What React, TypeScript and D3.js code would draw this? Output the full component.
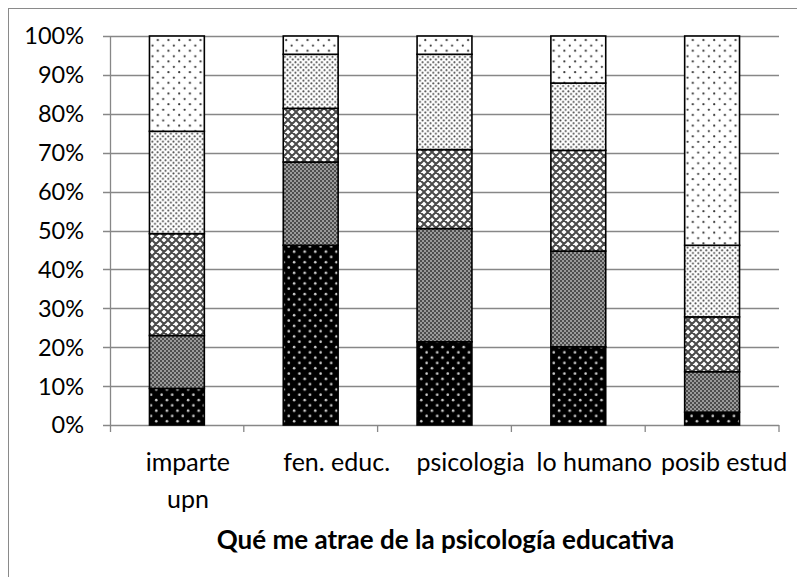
import React from "react";
import * as d3 from "d3";

const categories = ["imparte upn", "fen. educ.", "psicologia", "lo humano", "posib estud"];
const categoryLines = [["imparte", "upn"], ["fen. educ."], ["psicologia"], ["lo humano"], ["posib estud"]];
const labelShift = [11, 26, 26, 16, 12];
const seriesNames = ["s1", "s2", "s3", "s4", "s5"];
const s1 = [9.4, 46.2, 21.4, 20.1, 3.3];
const s2 = [13.6, 21.4, 29.1, 24.6, 10.4];
const s3 = [26.2, 13.8, 20.3, 25.9, 14.1];
const s4 = [26.3, 13.9, 24.5, 17.3, 18.4];
const s5 = [24.5, 4.7, 4.7, 12.1, 53.8];
const yTicks = [0, 0.1, 0.2, 0.3, 0.4, 0.5, 0.6, 0.7, 0.8, 0.9, 1];
const title = "Qué me atrae de la psicología educativa";

const W = 797;
const H = 577;
const plot = { left: 110, right: 779, top: 36, bottom: 425 };
const FONT = "Lato, 'Open Sans', sans-serif";
const GRID = "#878787";

export default function App() {
  const seriesValues = [s1, s2, s3, s4, s5];
  const rows = categories.map((c, i) => {
    const r: any = { cat: c };
    seriesNames.forEach((s, j) => (r[s] = seriesValues[j][i]));
    return r;
  });
  const stacked = d3.stack().keys(seriesNames).offset(d3.stackOffsetExpand)(rows);

  const x = d3.scaleBand().domain(categories).range([plot.left, plot.right]).paddingInner(0.59).paddingOuter(0.295);
  const xOuter = d3.scaleBand().domain(categories).range([plot.left, plot.right]);
  const y = d3.scaleLinear().domain([0, 1]).range([plot.bottom, plot.top]);
  const fmt = d3.format(".0%");
  const patternIds = ["p1", "p2", "p3", "p4", "p5"];

  return (
    <svg width={W} height={H} style={{ position: "absolute", left: 0, top: 0, background: "#fff" }}>
      <defs>
        <pattern id="p1" patternUnits="userSpaceOnUse" width={10.6} height={10.6}>
          <rect width={10.6} height={10.6} fill="#000" />
          <circle cx={2.6} cy={2.6} r={1.3} fill="#d0d0d0" />
          <circle cx={7.9} cy={7.9} r={1.3} fill="#d0d0d0" />
        </pattern>
        <pattern id="p2" patternUnits="userSpaceOnUse" width={4} height={4}>
          <rect width={4} height={4} fill="#9a9a9a" />
          <circle cx={1} cy={1} r={1} fill="#333" />
          <circle cx={3} cy={3} r={1} fill="#333" />
        </pattern>
        <pattern id="p3" patternUnits="userSpaceOnUse" width={8} height={8}>
          <rect width={8} height={8} fill="#fff" />
          <path d="M0,0L8,8M8,0L0,8M-1,7L1,9M7,-1L9,1M-1,1L1,-1M7,9L9,7" stroke="#4a4a4a" strokeWidth={2} />
        </pattern>
        <pattern id="p4" patternUnits="userSpaceOnUse" width={5.3} height={5.3}>
          <rect width={5.3} height={5.3} fill="#fff" />
          <circle cx={1.3} cy={1.3} r={1} fill="#444" />
          <circle cx={3.95} cy={3.95} r={1} fill="#444" />
        </pattern>
        <pattern id="p5" patternUnits="userSpaceOnUse" width={10.7} height={10.7}>
          <rect width={10.7} height={10.7} fill="#fff" />
          <circle cx={2.7} cy={2.7} r={1.1} fill="#333" />
          <circle cx={8} cy={8} r={1.1} fill="#333" />
        </pattern>
      </defs>

      <rect x={8.5} y={8.5} width={1000} height={1000} fill="none" stroke="#8a8a8a" strokeWidth={1} />

      {yTicks.map((t) => (
        <g key={t}>
          <line x1={plot.left - 7} x2={plot.right} y1={Math.round(y(t)) + 0.5} y2={Math.round(y(t)) + 0.5} stroke={GRID} strokeWidth={1.3} />
          <text x={84} y={y(t)} dy="0.36em" textAnchor="end" fontFamily={FONT} fontSize={23.5} fill="#000">
            {fmt(t)}
          </text>
        </g>
      ))}

      <line x1={plot.left + 0.5} x2={plot.left + 0.5} y1={plot.top} y2={plot.bottom + 7} stroke={GRID} strokeWidth={1.3} />
      {categories.map((c) => (
        <line key={c} x1={xOuter(c)! + xOuter.bandwidth()} x2={xOuter(c)! + xOuter.bandwidth()} y1={plot.bottom} y2={plot.bottom + 7} stroke={GRID} strokeWidth={1.3} />
      ))}

      {stacked.map((layer, li) => (
        <g key={layer.key}>
          {layer.map((d, i) => (
            <rect
              key={i}
              x={x(categories[i])}
              y={y(d[1])}
              width={x.bandwidth()}
              height={y(d[0]) - y(d[1])}
              fill={`url(#${patternIds[li]})`}
              stroke="#000"
              strokeWidth={1.6}
            />
          ))}
        </g>
      ))}

      {categories.map((c, i) => {
        const cx = xOuter(c)! + xOuter.bandwidth() / 2 + labelShift[i];
        return (
          <text key={c} x={cx} y={471} textAnchor="middle" fontFamily={FONT} fontSize={25} fill="#000">
            {categoryLines[i].map((ln, k) => (
              <tspan key={k} x={cx} dy={k === 0 ? 0 : 37}>
                {ln}
              </tspan>
            ))}
          </text>
        );
      })}

      <text x={445.5} y={549} textAnchor="middle" fontFamily={FONT} fontSize={26} fontWeight="bold" fill="#000">
        {title}
      </text>
    </svg>
  );
}
